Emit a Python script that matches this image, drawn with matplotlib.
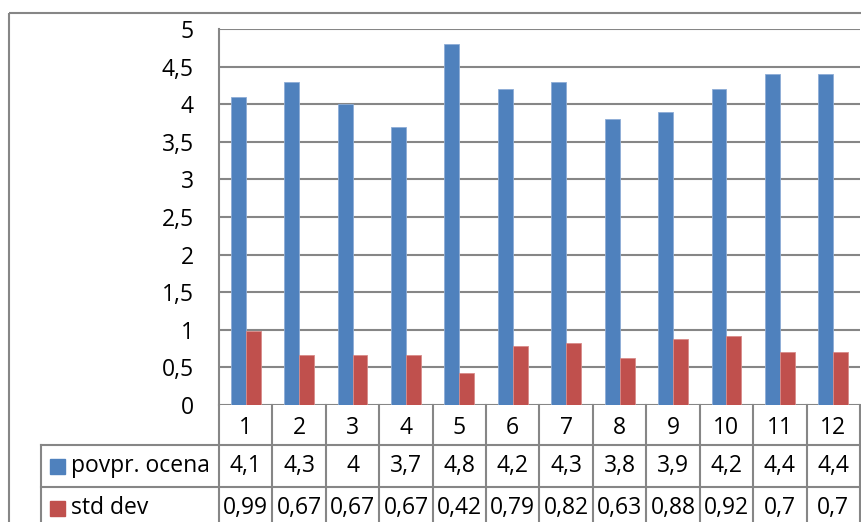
import matplotlib.pyplot as plt
from matplotlib.lines import Line2D
from matplotlib.patches import Rectangle

# ---- Data
categories = ["1", "2", "3", "4", "5", "6", "7", "8", "9", "10", "11", "12"]
povpr_ocena = [4.1, 4.3, 4.0, 3.7, 4.8, 4.2, 4.3, 3.8, 3.9, 4.2, 4.4, 4.4]
std_dev = [0.99, 0.67, 0.67, 0.67, 0.42, 0.79, 0.82, 0.63, 0.88, 0.92, 0.7, 0.7]
series_names = ["povpr. ocena", "std dev"]
y_ticks = [0, 0.5, 1, 1.5, 2, 2.5, 3, 3.5, 4, 4.5, 5]

BLUE = "#4F81BD"
RED = "#C0504D"
GRID = "#868686"
FONT = "Open Sans"
FS = 16.5

W, H = 862, 522
fig = plt.figure(figsize=(W / 100, H / 100), dpi=100)

# plot area in pixel units
px_left, px_right, px_top, px_bottom = 219, 860, 29, 405


def fmt(v):
    s = f"{v:g}"
    return s.replace(".", ",")


ax = fig.add_axes([px_left / W, 1 - px_bottom / H,
                   (px_right - px_left) / W, (px_bottom - px_top) / H])
x = list(range(len(categories)))
bw = 0.28
ax.bar([i - bw / 2 for i in x], povpr_ocena, width=bw, color=BLUE,
       edgecolor="#8EADD6", linewidth=0.6, zorder=3)
ax.bar([i + bw / 2 for i in x], std_dev, width=bw, color=RED,
       edgecolor="#D88B89", linewidth=0.6, zorder=3)
ax.set_xlim(-0.5, len(categories) - 0.5)
ax.set_ylim(0, 5)
ax.set_yticks(y_ticks)
ax.set_yticklabels([fmt(t) for t in y_ticks], fontsize=FS, family=FONT)
ax.tick_params(axis="y", length=0, pad=18)
ax.set_xticks([])
for t in y_ticks:
    ax.axhline(t, color=GRID, linewidth=1.5, zorder=1)
for side in ["top", "right", "bottom"]:
    ax.spines[side].set_visible(False)
ax.spines["left"].set_color(GRID)
ax.spines["left"].set_linewidth(1.5)

# ---- Overlay in pixel coordinates for frame and data table
ov = fig.add_axes([0, 0, 1, 1], facecolor="none")
ov.set_xlim(0, W)
ov.set_ylim(H, 0)
ov.axis("off")

# outer chart frame
ov.add_patch(Rectangle((9, 13), W + 20, H + 20, fill=False,
                       edgecolor=GRID, linewidth=1.5))

col_w = (px_right - px_left) / len(categories)
row_y = [px_bottom, 445, 487, 529]
label_left = 41


def hline(x0, x1, y):
    ov.add_line(Line2D([x0, x1], [y, y], color=GRID, linewidth=1.5))


def vline(xp, y0, y1):
    ov.add_line(Line2D([xp, xp], [y0, y1], color=GRID, linewidth=1.5))


hline(label_left, px_right, row_y[1])
hline(label_left, px_right, row_y[2])
vline(label_left, row_y[1], H)
for k in range(len(categories) + 1):
    vline(px_left + k * col_w, row_y[0], H)

# header row: category labels
for k, c in enumerate(categories):
    ov.text(px_left + (k + 0.5) * col_w, (row_y[0] + row_y[1]) / 2 + 3, c,
            ha="center", va="center", fontsize=FS, family=FONT)

# series rows
for r, (name, vals, col) in enumerate(zip(series_names,
                                           [povpr_ocena, std_dev],
                                           [BLUE, RED])):
    yc = (row_y[r + 1] + row_y[r + 2]) / 2
    ov.add_patch(Rectangle((50, yc - 7.5), 15, 15, color=col))
    ov.text(71, yc, name, ha="left", va="center", fontsize=FS, family=FONT)
    for k, v in enumerate(vals):
        ov.text(px_left + (k + 0.5) * col_w, yc, fmt(v),
                ha="center", va="center", fontsize=FS, family=FONT)

fig.savefig("out.png", dpi=100)
